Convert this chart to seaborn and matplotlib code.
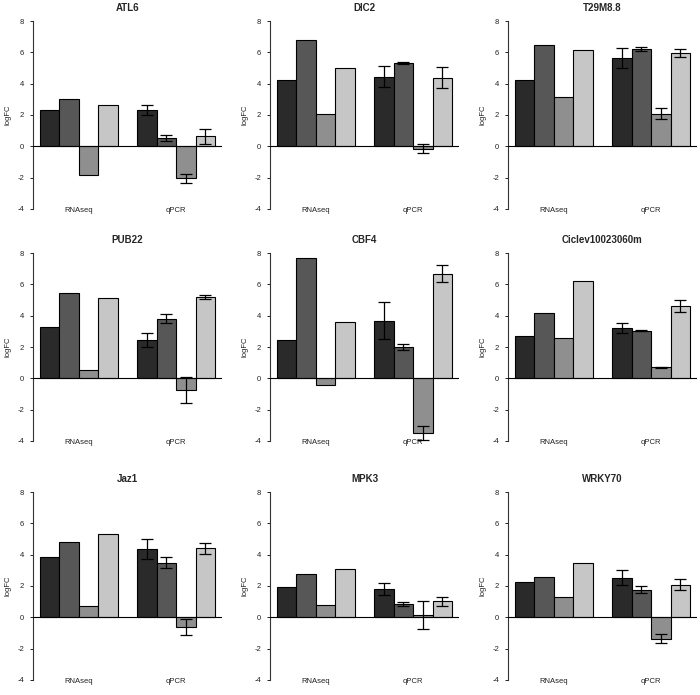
import numpy as np
import pandas as pd
import matplotlib
matplotlib.use("Agg")
import matplotlib.pyplot as plt
import seaborn as sns

genes = ["ATL6", "DIC2", "T29M8.8", "PUB22", "CBF4", "Ciclev10023060m",
         "Jaz1", "MPK3", "WRKY70"]
methods = ["RNAseq", "qPCR"]
series = ["s1", "s2", "s3", "s4"]
grey_palette = ["#2a2a2a", "#575757", "#8f8f8f", "#c6c6c6"]

# RNAseq values per gene (4 bars each)
rnaseq_vals = [
    [2.32, 3.05, -1.81, 2.62],
    [4.26, 6.76, 2.09, 5.03],
    [4.26, 6.48, 3.18, 6.18],
    [3.30, 5.42, 0.51, 5.10],
    [2.47, 7.68, -0.41, 3.60],
    [2.71, 4.20, 2.56, 6.23],
    [3.82, 4.80, 0.75, 5.29],
    [1.94, 2.79, 0.81, 3.11],
    [2.24, 2.58, 1.30, 3.50],
]
# qPCR values and their error bars
qpcr_vals = [
    [2.32, 0.53, -2.03, 0.64],
    [4.43, 5.31, -0.15, 4.37],
    [5.65, 6.23, 2.09, 5.97],
    [2.45, 3.80, -0.72, 5.18],
    [3.69, 2.00, -3.48, 6.67],
    [3.22, 3.03, 0.70, 4.61],
    [4.35, 3.50, -0.60, 4.41],
    [1.83, 0.85, 0.15, 1.02],
    [2.54, 1.77, -1.36, 2.09],
]
qpcr_err = [
    [0.29, 0.20, 0.28, 0.46],
    [0.67, 0.07, 0.27, 0.67],
    [0.63, 0.14, 0.36, 0.27],
    [0.47, 0.28, 0.83, 0.13],
    [1.18, 0.20, 0.45, 0.55],
    [0.31, 0.03, 0.05, 0.38],
    [0.65, 0.33, 0.52, 0.35],
    [0.39, 0.10, 0.88, 0.29],
    [0.46, 0.21, 0.30, 0.34],
]

sns.set_style("white")
plt.rcParams["font.family"] = ["Liberation Sans", "DejaVu Sans"]

fig = plt.figure(figsize=(7, 6.95), dpi=100)
W, H = 700, 695
col_left = [33, 270, 508]
row_top = [13.5, 245.5, 484.5]
pw, ph = 189, 203

for i, gene in enumerate(genes):
    r, c = divmod(i, 3)
    ax = fig.add_axes([col_left[c] / W, 1 - (row_top[r] + ph) / H, pw / W, ph / H])
    ax.set_facecolor("none")

    rows = []
    for j, s in enumerate(series):
        rows.append({"method": "RNAseq", "series": s, "logFC": rnaseq_vals[i][j], "err": 0.0})
    for j, s in enumerate(series):
        rows.append({"method": "qPCR", "series": s, "logFC": qpcr_vals[i][j], "err": qpcr_err[i][j]})
    df = pd.DataFrame(rows)

    sns.barplot(data=df, x="method", y="logFC", hue="series", order=methods,
                hue_order=series, palette=grey_palette, width=0.8,
                edgecolor="black", linewidth=0.8, errorbar=None, legend=False,
                saturation=1, ax=ax)

    # error bars on qPCR bars
    for p in ax.patches:
        xc = p.get_x() + p.get_width() / 2
        gi = int(round(xc))
        hi = int(round((xc - gi) / p.get_width() + 1.5))
        if methods[gi] == "qPCR":
            row = df[(df["method"] == "qPCR") & (df["series"] == series[hi])].iloc[0]
            ax.errorbar(xc, row["logFC"], yerr=row["err"], fmt="none",
                        ecolor="black", elinewidth=0.9, capsize=4.5, capthick=0.9)

    ax.axhline(0, color="black", lw=0.8, zorder=3)
    ax.set_xlim(-0.472, 1.472)
    ax.set_ylim(-4.48, 8.48)
    ax.set_yticks([-4, -2, 0, 2, 4, 6, 8])
    ax.set_yticklabels(["-4", "-2", "0", "2", "4", "6", "8"])
    for side in ["top", "right", "bottom"]:
        ax.spines[side].set_visible(False)
    ax.spines["left"].set_bounds(-4, 8)
    ax.spines["left"].set_color("#333333")
    ax.spines["left"].set_linewidth(0.8)
    ax.tick_params(axis="y", left=True, length=2.5, width=0.7, pad=4, labelsize=5.5,
                   colors="#222222")
    ax.tick_params(axis="x", bottom=False, length=0, pad=-6.5, labelsize=5.5,
                   labelcolor="#222222")
    ax.set_xlabel("")
    ax.set_ylabel("logFC", fontsize=5.5, labelpad=4, color="#222222")
    ax.set_title(gene, fontsize=7, fontweight="bold", pad=2)

fig.savefig("out.png", dpi=100)
